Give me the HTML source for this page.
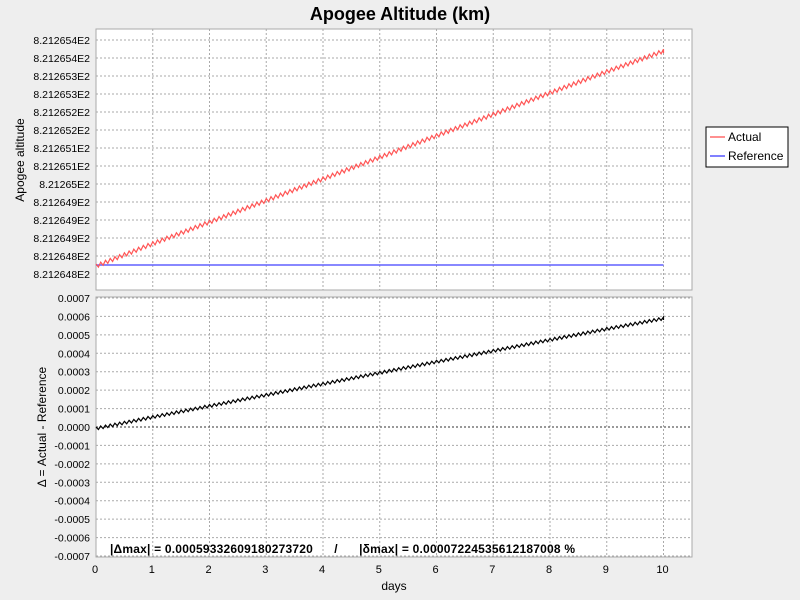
<!DOCTYPE html>
<html><head><meta charset="utf-8"><style>
body{margin:0;background:#eeeeee;}
svg{display:block;font-family:"Liberation Sans",sans-serif;}
</style></head><body>
<svg id="chart" width="800" height="600">
<text x="400" y="20" text-anchor="middle" font-size="18" font-weight="bold">Apogee Altitude (km)</text>
<rect x="96" y="29" width="596" height="261" fill="#fff" stroke="#aaa"/>
<rect x="96" y="297" width="596" height="260" fill="#fff" stroke="#aaa"/>
<g id="grid"></g>
<g id="series"></g>
<text transform="translate(24,160) rotate(-90)" text-anchor="middle" font-size="12">Apogee altitude</text>
<text transform="translate(46,427) rotate(-90)" text-anchor="middle" font-size="12">Δ = Actual - Reference</text>
<text x="394" y="590" text-anchor="middle" font-size="12">days</text>
<text x="110" y="553" font-size="12" font-weight="bold" textLength="465" lengthAdjust="spacing" xml:space="preserve">|Δmax| = 0.00059332609180273720      /      |δmax| = 0.00007224535612187008 %</text>
<g>
<rect x="706" y="127" width="82" height="40" fill="#fff" stroke="#000"/>
<line x1="710" y1="137" x2="725" y2="137" stroke="#ff9090" stroke-width="2"/>
<text x="728" y="141" font-size="12">Actual</text>
<line x1="710" y1="156" x2="725" y2="156" stroke="#8080ff" stroke-width="2"/>
<text x="728" y="160" font-size="12">Reference</text>
</g>
</svg>
<script>
const days=[0,1,2,3,4,5,6,7,8,9,10];
const deltaValues=[0,0.000062,0.000122,0.000182,0.000242,0.000302,0.000362,0.000421,0.000481,0.000540,0.000597];
const referenceValue=0.000025;
const topTickLabels=["8.212648E2","8.212648E2","8.212649E2","8.212649E2","8.212649E2","8.21265E2","8.212651E2","8.212651E2","8.212652E2","8.212652E2","8.212653E2","8.212653E2","8.212654E2","8.212654E2"];
const bottomTicks=[-0.0007,-0.0006,-0.0005,-0.0004,-0.0003,-0.0002,-0.0001,0,0.0001,0.0002,0.0003,0.0004,0.0005,0.0006,0.0007];
const xTicks=[0,1,2,3,4,5,6,7,8,9,10];
const orbitsPerDay=12;
const NS="http://www.w3.org/2000/svg";
function X(d){return 96+d*56.75;}
function Ytop(v){return 274-v/0.00005*18;}
function Ybot(v){return 427-v/0.0001*18.43;}
function mk(tag,attrs,parent){const e=document.createElementNS(NS,tag);for(const k in attrs)e.setAttribute(k,attrs[k]);parent.appendChild(e);return e;}
const grid=document.getElementById('grid'),svg=document.getElementById('chart'),ser=document.getElementById('series');
xTicks.forEach(t=>{
 const l1=mk('line',{x1:X(t),x2:X(t),y1:29,y2:290,stroke:'#aaa','stroke-dasharray':'2,2'},grid);
 
 
 const l2=mk('line',{x1:X(t),x2:X(t),y1:297,y2:557,stroke:'#aaa','stroke-dasharray':'2,2'},grid);
 
 
 const tx=mk('text',{x:X(t)-1,y:573,'text-anchor':'middle','font-size':11},svg);
 tx.textContent=t;
 
 
});
topTickLabels.forEach((lab,i)=>{
 const y=Ytop(i*0.00005);
 const l=mk('line',{x1:96,x2:692,y1:y,y2:y,stroke:'#aaa','stroke-dasharray':'2,2'},grid);
 
 
 const tx=mk('text',{x:90,y:y+4,'text-anchor':'end','font-size':10.5},svg);
 tx.textContent=lab;
 
 
});
bottomTicks.forEach(v=>{
 const y=Ybot(v);
 const l=mk('line',{x1:96,x2:692,y1:y,y2:y,stroke:v===0?'#333':'#aaa','stroke-dasharray':'2,2'},grid);
 
 
 const tx=mk('text',{x:90,y:y+4,'text-anchor':'end','font-size':10.5},svg);
 tx.textContent=v.toFixed(4);
 
 
});
function interp(d){const i=Math.min(Math.floor(d),days.length-2);const f=(d-days[i])/(days[i+1]-days[i]);return deltaValues[i]+(deltaValues[i+1]-deltaValues[i])*f;}
let ptsA=[],ptsD=[];
const N=Math.round(10*orbitsPerDay);
for(let k=0;k<=N;k++){
 for(const ph of [0,0.5]){
  const d=Math.min((k+ph)/orbitsPerDay,10);
  const dv=interp(d);
  const dip=ph?1:0;
  ptsA.push(X(d).toFixed(1)+','+(Ytop(referenceValue+dv)+dip*4-1).toFixed(1));
  ptsD.push(X(d).toFixed(1)+','+(Ybot(dv)+dip*3).toFixed(1));
 }
}
const ref=mk('line',{x1:X(days[0]),x2:X(days[days.length-1]),y1:Ytop(referenceValue),y2:Ytop(referenceValue),stroke:'#6060ff','stroke-width':1.5},ser);


const act=mk('polyline',{points:ptsA.join(' '),fill:'none',stroke:'#ff5555','stroke-width':1.2},ser);


const del=mk('polyline',{points:ptsD.join(' '),fill:'none',stroke:'#000','stroke-width':1.2},ser);


</script>
</body></html>
